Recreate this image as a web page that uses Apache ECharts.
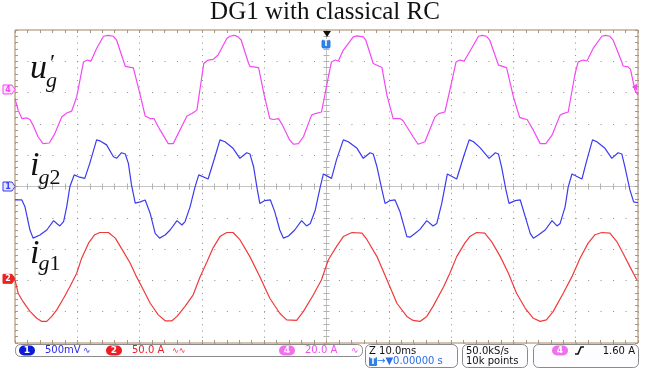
<!DOCTYPE html>
<html><head><meta charset="utf-8">
<script src="https://cdn.jsdelivr.net/npm/echarts@6.0.0/dist/echarts.min.js"></script>
<style>html,body{margin:0;padding:0;background:#fff}#c{width:650px;height:369px}</style>
</head><body><div id="c"></div>
<script>
// ---- data: [time ms (10 ms/div, screen 0..100), value in divisions from channel ground]
const titleText = 'DG1 with classical RC';
const ugPts = [[0.0,-0.29],[0.5,-0.66],[1.1,-0.93],[1.9,-0.91],[2.4,-0.96],[2.9,-1.14],[3.7,-1.51],[4.5,-1.73],[5.5,-1.71],[6.4,-1.41],[7.5,-0.88],[8.3,-0.75],[9.1,-0.69],[9.9,-0.24],[11.0,0.88],[11.6,0.94],[12.2,0.91],[13.1,1.31],[14.2,1.70],[15.0,1.73],[15.8,1.70],[16.3,1.58],[17.7,0.74],[19.0,0.69],[20.1,-0.18],[20.9,-0.85],[21.7,-0.93],[22.3,-0.93],[23.3,-1.30],[24.6,-1.73],[25.4,-1.73],[27.6,-0.85],[28.4,-0.77],[29.2,-0.66],[30.3,0.83],[31.0,0.94],[31.8,0.96],[32.6,1.10],[34.0,1.63],[34.5,1.70],[35.2,1.73],[35.8,1.68],[36.3,1.58],[37.5,0.83],[37.7,0.74],[39.1,0.70],[40.0,-0.18],[40.9,-0.93],[41.5,-0.96],[42.3,-0.93],[42.8,-1.09],[44.1,-1.62],[44.7,-1.75],[45.5,-1.73],[46.3,-1.51],[47.6,-0.82],[48.2,-0.77],[49.2,-0.72],[50.3,0.40],[50.8,0.88],[51.4,0.94],[51.9,0.91],[52.7,1.26],[54.3,1.68],[54.9,1.71],[55.9,1.68],[56.3,1.58],[57.5,0.83],[58.9,0.70],[59.7,-0.18],[60.7,-0.93],[61.8,-0.93],[62.3,-1.00],[63.9,-1.51],[64.7,-1.75],[65.0,-1.73],[65.8,-1.67],[67.4,-0.88],[68.0,-0.77],[69.0,-0.72],[69.8,-0.02],[70.8,0.88],[71.4,0.94],[72.1,0.91],[73.6,1.42],[74.4,1.70],[75.0,1.73],[75.7,1.70],[76.2,1.58],[77.6,0.78],[78.9,0.70],[80.0,-0.24],[81.0,-0.89],[81.6,-0.93],[82.2,-0.96],[83.2,-1.30],[84.3,-1.73],[85.2,-1.73],[86.2,-1.46],[87.5,-0.82],[88.0,-0.77],[88.8,-0.72],[89.9,0.51],[90.4,0.88],[91.2,0.94],[91.8,0.91],[92.8,1.31],[94.2,1.70],[94.8,1.73],[95.5,1.70],[96.0,1.58],[97.4,0.88],[97.6,0.75],[98.4,0.72],[98.8,0.64],[99.5,-0.02],[100,-0.18]];
const ig2Pts = [[0.0,-0.43],[1.1,-0.43],[1.6,-0.65],[2.4,-1.39],[2.9,-1.65],[4.0,-1.55],[5.1,-1.39],[6.2,-1.09],[6.7,-1.18],[7.2,-1.26],[7.8,-1.12],[8.3,-0.65],[8.8,-0.01],[9.5,0.37],[10.2,0.31],[11.2,0.26],[12.0,0.74],[13.1,1.49],[13.6,1.46],[14.7,1.33],[15.8,0.95],[16.3,0.90],[17.1,1.08],[17.7,1.04],[18.2,0.74],[18.7,0.05],[19.3,-0.53],[20.1,-0.49],[20.9,-0.43],[21.7,-0.86],[22.5,-1.50],[23.2,-1.65],[24.1,-1.55],[24.9,-1.39],[26.0,-1.09],[26.8,-1.23],[27.3,-1.12],[28.1,-0.65],[28.9,-0.01],[29.5,0.37],[31.0,0.24],[32.1,0.95],[32.9,1.49],[33.7,1.43],[35.0,1.22],[36.1,0.90],[37.2,1.08],[37.7,1.04],[38.3,0.63],[38.9,-0.11],[39.3,-0.54],[40.1,-0.45],[41.0,-0.43],[41.7,-0.81],[42.5,-1.39],[43.1,-1.65],[43.9,-1.58],[44.9,-1.39],[46.0,-1.09],[46.8,-1.26],[47.4,-1.18],[48.2,-0.75],[49.0,-0.01],[49.5,0.40],[50.8,0.26],[51.6,0.85],[52.7,1.49],[53.5,1.43],[54.9,1.22],[55.9,0.90],[57.0,1.08],[57.5,1.04],[58.1,0.63],[58.9,-0.11],[59.4,-0.54],[60.2,-0.45],[61.0,-0.43],[61.8,-0.81],[62.9,-1.60],[63.4,-1.62],[64.2,-1.50],[65.0,-1.37],[66.1,-1.09],[67.1,-1.26],[67.7,-1.18],[68.5,-0.54],[69.0,-0.01],[69.4,0.40],[70.9,0.24],[72.0,0.95],[72.9,1.49],[73.6,1.43],[74.6,1.25],[76.1,0.90],[77.1,1.08],[77.6,1.04],[78.1,0.63],[78.8,-0.11],[79.3,-0.54],[80.3,-0.45],[81.1,-0.43],[81.9,-0.96],[82.7,-1.50],[83.2,-1.65],[84.0,-1.55],[85.1,-1.39],[86.2,-1.09],[87.0,-1.26],[87.5,-1.18],[88.3,-0.65],[88.8,-0.01],[89.4,0.40],[91.0,0.24],[91.8,0.85],[92.7,1.49],[93.4,1.43],[94.7,1.22],[95.8,0.90],[96.8,1.08],[97.4,1.04],[97.9,0.63],[98.7,-0.11],[99.3,-0.49],[100,-0.52]];
const ig1Pts = [[0.0,-0.03],[0.5,-0.46],[1.3,-0.73],[2.4,-1.04],[3.5,-1.26],[4.3,-1.36],[5.1,-1.36],[5.9,-1.20],[6.7,-0.99],[7.8,-0.62],[8.8,-0.25],[9.9,0.18],[10.7,0.66],[11.8,1.14],[12.8,1.41],[13.6,1.48],[15.0,1.48],[16.1,1.30],[17.4,0.87],[18.5,0.50],[19.5,0.07],[20.6,-0.35],[21.7,-0.78],[23.0,-1.15],[24.1,-1.34],[25.2,-1.34],[26.0,-1.20],[27.3,-0.88],[28.6,-0.51],[29.7,0.06],[30.8,0.54],[31.8,0.99],[32.9,1.35],[34.0,1.48],[35.0,1.48],[36.1,1.25],[37.7,0.71],[39.3,0.07],[40.9,-0.62],[42.5,-1.10],[43.6,-1.31],[45.2,-1.33],[46.3,-1.04],[47.9,-0.51],[49.2,-0.03],[50.3,0.61],[51.6,1.03],[52.7,1.35],[54.1,1.48],[55.7,1.46],[56.5,1.25],[58.1,0.71],[59.7,-0.03],[61.3,-0.78],[62.9,-1.20],[63.9,-1.33],[65.0,-1.36],[66.1,-1.20],[67.1,-0.88],[68.8,-0.25],[69.8,0.18],[70.9,0.71],[72.2,1.14],[73.0,1.35],[74.1,1.48],[75.4,1.46],[76.5,1.19],[77.9,0.71],[79.2,0.18],[80.5,-0.46],[81.9,-0.94],[83.2,-1.26],[84.3,-1.36],[85.3,-1.31],[86.4,-1.04],[88.0,-0.46],[89.4,0.07],[90.7,0.66],[92.0,1.14],[93.1,1.41],[94.2,1.48],[95.5,1.46],[96.6,1.19],[97.6,0.82],[98.7,0.39],[99.8,-0.03]];
const chOffsetDiv = [3.1, 0, -2.95];       // ch4 (u'g), ch1 (ig2), ch2 (ig1) ground markers
const trigLevelDiv = 1.60 / 20.0;           // 1.60 A on ch4 at 20.0 A/div
const timeRange = [0, 100];
const divRange = [-5, 5];
const statusCh = [['1','500mV','∿'],['2','50.0 A','∿∿'],['4','20.0 A','∿']];
const statusTime = ['Z 10.0ms','→▼0.00000 s'];
const statusAcq = ['50.0kS/s','10k points'];
const statusTrig = ['4','1.60 A'];

// ---- chart
const chart = echarts.init(document.getElementById('c'), null, {renderer:'canvas'});
const C_UG = '#f348f3', C_I2 = '#3b3bf0', C_I1 = '#f03a3a';
const dotV = {color:'#8e8e8e', width:1, type:[1, 5.26]};
const dotH = {color:'#8e8e8e', width:1, type:[1, 11.46]};
const frameTick = {color:'#a89680', width:1};
const ctrTick = {color:'#b0b0b0', width:1};
const noLab = {show:false};
function frameX(pos){return {type:'value',min:0,max:100,interval:10,position:pos,axisLine:{show:false,onZero:false},axisTick:{show:true,inside:true,length:3,lineStyle:frameTick},minorTick:{show:true,splitNumber:5,length:3,lineStyle:frameTick},axisLabel:noLab,splitLine:{show:false}};}
function frameY(pos){return {type:'value',min:-5,max:5,interval:1,position:pos,axisLine:{show:false,onZero:false},axisTick:{show:true,inside:true,length:3,lineStyle:frameTick},minorTick:{show:true,splitNumber:5,length:3,lineStyle:frameTick},axisLabel:noLab,splitLine:{show:false}};}
function ctrX(inside){return {type:'value',min:0,max:100,interval:10,position:'bottom',axisLine:{show:true,onZero:true,onZeroAxisIndex:0,lineStyle:{color:'#c4c4c4',width:1}},axisTick:{show:true,inside:inside,length:3,lineStyle:ctrTick},minorTick:{show:true,splitNumber:5,length:3,lineStyle:ctrTick},axisLabel:noLab,splitLine:{show:false}};}
function ctrY(inside){return {type:'value',min:-5,max:5,interval:1,position:'left',axisLine:{show:true,onZero:true,onZeroAxisIndex:5,lineStyle:{color:'#c4c4c4',width:1}},axisTick:{show:true,inside:inside,length:3,lineStyle:ctrTick},minorTick:{show:true,splitNumber:5,length:3,lineStyle:ctrTick},axisLabel:noLab,splitLine:{show:false}};}
function trace(pts, off, color){return {type:'line',xAxisIndex:0,yAxisIndex:0,data:pts.map(p=>[p[0],p[1]+off]),showSymbol:false,symbol:'none',lineStyle:{color:color,width:1.2},silent:true,z:5};}

chart.setOption({
  animation:false,
  backgroundColor:'#ffffff',
  title:{text:titleText,left:'center',top:0,padding:0,textStyle:{fontFamily:'Liberation Serif',fontSize:25,fontWeight:'normal',color:'#111'}},
  grid:{left:15,right:12,top:30,bottom:26,show:true,borderColor:'#a5835f',borderWidth:1,backgroundColor:'transparent',containLabel:false,outerBoundsMode:'none'},
  xAxis:[
    {type:'value',min:timeRange[0],max:timeRange[1],interval:10,axisLine:{show:false,onZero:false},axisTick:{show:false},axisLabel:noLab,splitLine:{show:true,lineStyle:dotV}},
    frameX('top'), frameX('bottom'), ctrX(true), ctrX(false),
    {type:'value',min:-50,max:50,show:false,axisLine:{onZero:false}}
  ],
  yAxis:[
    {type:'value',min:divRange[0],max:divRange[1],interval:1,axisLine:{show:false,onZero:false},axisTick:{show:false},axisLabel:noLab,splitLine:{show:true,lineStyle:dotH}},
    frameY('left'), frameY('right'), ctrY(true), ctrY(false)
  ],
  series:[trace(ugPts,chOffsetDiv[0],C_UG), trace(ig2Pts,chOffsetDiv[1],C_I2), trace(ig1Pts,chOffsetDiv[2],C_I1)]
});

const P = (t,d)=>chart.convertToPixel({xAxisIndex:0,yAxisIndex:0},[t,d]);
const g = [];
// channel ground markers on left edge
function chMarker(y, label, stroke, fill, txt){
  g.push({type:'polygon',shape:{points:[[3,y-4.5],[12,y-4.5],[15,y],[12,y+4.5],[3,y+4.5]]},style:{fill:fill,stroke:stroke,lineWidth:1},z:20});
  g.push({type:'text',x:8,y:y,style:{text:label,fontFamily:'DejaVu Sans',fontSize:8,fontWeight:'bold',fill:txt,align:'center',verticalAlign:'middle'},z:21});
}
chMarker(P(0,chOffsetDiv[0])[1],'4',C_UG,'#fde4fd',C_UG);
chMarker(P(0,chOffsetDiv[1])[1],'1',C_I2,'#e4e6ff',C_I2);
chMarker(P(0,chOffsetDiv[2])[1],'2','#ee2222','#ee2222','#fff');
// trigger level marker right edge
const ty = P(100, chOffsetDiv[0]+trigLevelDiv)[1];
g.push({type:'polygon',shape:{points:[[632,ty],[637,ty-3.5],[637,ty+3.5]]},style:{fill:C_UG},z:20});
// trigger position
const tx = P(50,0)[0];
g.push({type:'polygon',shape:{points:[[tx-3.5,31],[tx+4.5,31],[tx+0.5,37]]},style:{fill:'#111'},z:20});
g.push({type:'rect',shape:{x:tx-5,y:39.5,width:9,height:9,r:2},style:{fill:'#2f7fe8'},z:20});
g.push({type:'text',x:tx-0.5,y:44.2,style:{text:'T',fontFamily:'DejaVu Sans',fontSize:8,fontWeight:'bold',fill:'#fff',align:'center',verticalAlign:'middle'},z:21});
// math labels
const serifI = {fontFamily:'Liberation Serif',fontStyle:'italic',fill:'#111',verticalAlign:'middle'};
const serifN = {fontFamily:'Liberation Serif',fill:'#111',verticalAlign:'middle'};
function T(x,y,text,base,size){g.push({type:'text',x:x,y:y,style:Object.assign({},base,{text:text,fontSize:size}),z:15});}
T(30,69,'u',serifI,34); T(50,64,'′',serifN,24); T(46,81,'g',serifI,22);
T(30,166,'i',serifI,34); T(38.5,178,'g',serifI,22); T(49.5,178,'2',serifN,22);
T(30,254,'i',serifI,34); T(38.5,264,'g',serifI,22); T(49.5,264,'1',serifN,22);
// status bar
const sb = {fontFamily:'DejaVu Sans',fontSize:10,verticalAlign:'middle'};
function box(x,y,w,h){g.push({type:'rect',shape:{x:x+0.5,y:y+0.5,width:w,height:h,r:5},style:{fill:'#fdfcfe',stroke:'#8a8a8a',lineWidth:1},z:10});}
function pill(x,y,label,fill){g.push({type:'rect',shape:{x:x,y:y-5,width:16,height:10,r:5},style:{fill:fill},z:11});g.push({type:'text',x:x+8,y:y,style:Object.assign({},sb,{text:label,fill:'#fff',fontWeight:'bold',fontSize:9,align:'center'}),z:12});}
function st(x,y,text,color,extra){g.push({type:'text',x:x,y:y,style:Object.assign({},sb,{text:text,fill:color},extra||{}),z:12});}
box(15,344,347,12);
pill(19,350.5,statusCh[0][0],'#0d1ad6'); st(45,350.5,statusCh[0][1],'#2a2ae8'); st(83,350.5,statusCh[0][2],'#2a2ae8',{fontSize:9});
pill(106,350.5,statusCh[1][0],'#ee1c24'); st(132,350.5,statusCh[1][1],'#ee1c24'); st(172,350.5,statusCh[1][2],'#ee1c24',{fontSize:8});
pill(279,350.5,statusCh[2][0],'#f070f0'); st(305,350.5,statusCh[2][1],'#f050f0'); st(351,350.5,statusCh[2][2],'#f050f0',{fontSize:9});
box(365,344,92,23);
st(369,351,statusTime[0],'#111');
g.push({type:'rect',shape:{x:369,y:357,width:8,height:9,r:1},style:{fill:'#2f7fe8'},z:11});
g.push({type:'text',x:373,y:361.5,style:Object.assign({},sb,{text:'T',fill:'#fff',fontWeight:'bold',fontSize:8,align:'center'}),z:12});
st(377,361.5,statusTime[1],'#2a6ee8');
box(462,344,65,23);
st(466,351,statusAcq[0],'#111'); st(466,361.5,statusAcq[1],'#111');
box(533,344,105,23);
pill(552,350.5,statusTrig[0],'#f070f0');
g.push({type:'polyline',shape:{points:[[575,354],[578,354],[581,347],[584,347]]},style:{stroke:'#111',lineWidth:1.6,fill:null},z:12});
st(635,351,statusTrig[1],'#111',{align:'right'});
chart.setOption({graphic:g});
</script></body></html>
